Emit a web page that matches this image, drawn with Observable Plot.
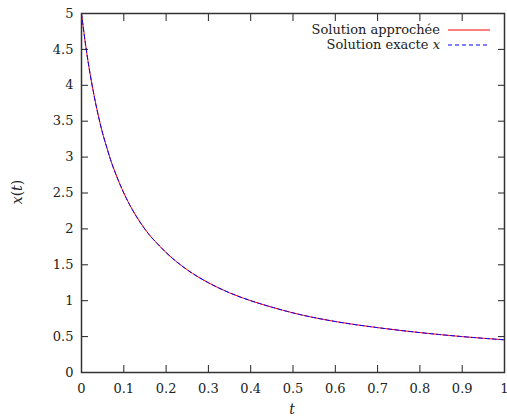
<!DOCTYPE html>
<html><head><meta charset="utf-8">
<script src="https://cdn.jsdelivr.net/npm/d3@7"></script>
<script src="https://cdn.jsdelivr.net/npm/@observablehq/plot@0.6"></script>
<style>
body{margin:0;background:#fff;}
#wrap{position:relative;width:507px;height:420px;font-family:'DejaVu Serif',serif;}
#wrap svg text{font-family:'DejaVu Serif',serif;}
#legend{position:absolute;right:17px;top:22px;font-size:13px;color:#222;line-height:15px;}
#legend .row{display:flex;align-items:center;justify-content:flex-end;}
#legend svg{margin-left:8px;}
</style>
</head><body>
<div id="wrap"><div id="legend"></div></div>
<script>
const tValues = [0,0.01,0.02,0.03,0.04,0.05,0.06,0.07,0.08,0.1,0.12,0.14,0.16,0.18,0.2,0.25,0.3,0.35,0.4,0.45,0.5,0.6,0.7,0.8,0.9,1];
const approxValues = [5,4.55,4.17,3.85,3.57,3.33,3.13,2.94,2.78,2.5,2.27,2.08,1.92,1.79,1.67,1.43,1.25,1.11,1.0,0.91,0.83,0.71,0.625,0.556,0.5,0.455];
const exactValues  = [5,4.55,4.17,3.85,3.57,3.33,3.13,2.94,2.78,2.5,2.27,2.08,1.92,1.79,1.67,1.43,1.25,1.11,1.0,0.91,0.83,0.71,0.625,0.556,0.5,0.455];
const xTicks = [0,0.1,0.2,0.3,0.4,0.5,0.6,0.7,0.8,0.9,1];
const yTicks = [0,0.5,1,1.5,2,2.5,3,3.5,4,4.5,5];
const seriesNames = ["Solution approchée","Solution exacte x"];
const seriesColors = ["#ff0000","#0000ff"];

const approx = tValues.map((t,i)=>({t, x: approxValues[i]}));
const exact = tValues.map((t,i)=>({t, x: exactValues[i]}));
const fmt = d => String(d);

const plot = Plot.plot({
  width: 507, height: 420,
  marginLeft: 81, marginRight: 3, marginTop: 13, marginBottom: 48,
  style: {fontSize: "13px", color: "#222", background: "#fff"},
  x: {domain: [0,1]},
  y: {domain: [0,5]},
  marks: [
    Plot.line(approx, {x:"t", y:"x", stroke: seriesColors[0], strokeWidth: 1, curve: "monotone-x"}),
    Plot.line(exact, {x:"t", y:"x", stroke: seriesColors[1], strokeWidth: 1, strokeDasharray: "4,3", curve: "monotone-x"}),
    Plot.axisX({ticks: xTicks, anchor: "bottom", tickSize: -7, text: null, label: null, strokeWidth: 1}),
    Plot.axisX({ticks: xTicks, anchor: "top", tickSize: -7, text: null, label: null, strokeWidth: 1}),
    Plot.axisY({ticks: yTicks, anchor: "left", tickSize: -7, text: null, label: null, strokeWidth: 1}),
    Plot.axisY({ticks: yTicks, anchor: "right", tickSize: -7, text: null, label: null, strokeWidth: 1}),
    Plot.axisX({ticks: xTicks, anchor: "bottom", tickSize: 0, tickPadding: 11, tickFormat: fmt, label: null, fontSize: 13}),
    Plot.axisY({ticks: yTicks, anchor: "left", tickSize: 0, tickPadding: 8, tickFormat: fmt, label: null, fontSize: 13}),
    Plot.frame({stroke: "#333", strokeWidth: 1.5})
  ]
});
document.getElementById("wrap").appendChild(plot);

// axis titles
const svg = d3.select(plot);
svg.append("text").attr("x", 292).attr("y", 414).attr("text-anchor","middle")
  .attr("font-size", 14).attr("fill","#222").attr("font-style","italic").text("t");
const yl = svg.append("text").attr("transform","translate(22,192) rotate(-90)").attr("text-anchor","middle")
  .attr("font-size", 14).attr("fill","#222");
yl.append("tspan").attr("font-style","italic").text("x");
yl.append("tspan").text("(");
yl.append("tspan").attr("font-style","italic").text("t");
yl.append("tspan").text(")");

// legend
const leg = document.getElementById("legend");
seriesNames.forEach((name,i)=>{
  const row = document.createElement("div");
  row.className = "row";
  const label = document.createElement("span");
  if (i === 1) {
    label.innerHTML = "Solution exacte <i>x</i>";
  } else label.textContent = name;
  row.appendChild(label);
  const sw = d3.create("svg").attr("width",42).attr("height",10);
  sw.append("line").attr("x1",0).attr("x2",42).attr("y1",5).attr("y2",5)
    .attr("stroke", seriesColors[i]).attr("stroke-width",1)
    .attr("stroke-dasharray", i===1 ? "4,3" : null);
  row.appendChild(sw.node());
  leg.appendChild(row);
});
</script>
</body></html>
